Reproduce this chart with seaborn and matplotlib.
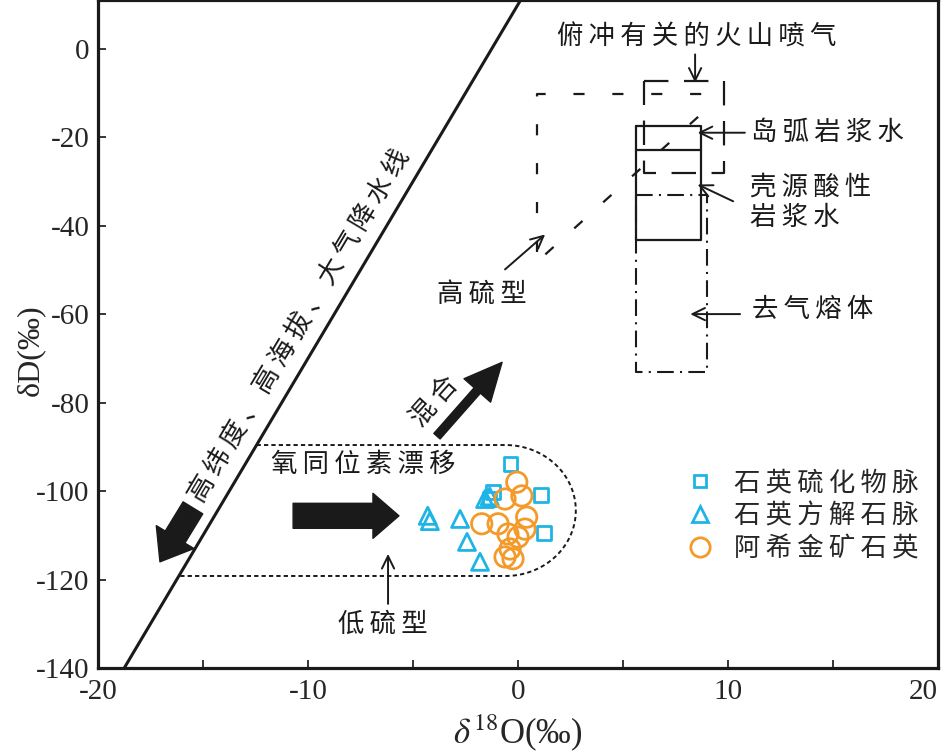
import numpy as np
import pandas as pd
import matplotlib
matplotlib.use('Agg')
import matplotlib.pyplot as plt
from matplotlib.lines import Line2D
import seaborn as sns

# sample data: delta18O (x) and deltaD (y), per mille
qtz_sulfide_o = [-0.35, -1.2, -1.35, 1.08, 1.24]
qtz_sulfide_d = [-93.9, -100.2, -101.8, -100.9, -109.5]
qtz_calcite_o = [-4.3, -4.2, -2.76, -2.43, -1.81, -1.57, -1.35]
qtz_calcite_d = [-105.6, -106.8, -106.3, -111.5, -116.0, -101.8, -101.2]
axi_qtz_o = [-0.06, 0.18, -0.62, -1.73, -0.95, 0.41, 0.33, -0.48, 0.0, -0.38, -0.62, -0.24]
axi_qtz_d = [-98.0, -101.1, -101.8, -107.4, -107.4, -105.9, -108.6, -109.7, -110.4, -113.1, -114.9, -115.3]

group_names = ['石英硫化物脉', '石英方解石脉', '阿希金矿石英']
group_colors = ['#1fb4e6', '#1fb4e6', '#f39a2b']
group_markers = ['s', '^', 'o']
group_sizes = [95, 150, 215]

# reference fields (x0, x1, y0, y1)
island_arc_box = [5.6, 8.7, -43.3, -17.4]
island_arc_split = -23.0
degassed_box = [5.6, 9.0, -73.1, -33.0]
vapor_box = [6.0, 9.8, -28.0, -7.2]
high_s_x = [0.9, 0.9, 9.8]
high_s_y = [-46.0, -10.2, -10.2]
high_s_diag_x = [1.3, 8.6]
high_s_diag_y = [-46.5, -15.3]
low_s_top, low_s_bottom = -89.6, -119.2
low_s_cx, low_s_rx = -0.6, 3.35

# global meteoric water line dD = 8 d18O + 10
gmwl_x = np.array([-21.0, 1.0])
gmwl_y = 8 * gmwl_x + 10

sns.set_theme(style='ticks')
plt.rcParams['font.family'] = ['Liberation Serif', 'DejaVu Sans']
plt.rcParams['axes.unicode_minus'] = False
plt.rcParams['mathtext.fontset'] = 'stix'
CJK = ['Noto Sans CJK SC', 'DejaVu Sans']


def sp(s):
    # spread characters a little, like the original typesetting
    return '\u2009'.join(s)


fig = plt.figure(figsize=(9.45, 7.56), dpi=100)
ax = fig.add_axes([0.1037, 0.1164, 0.889, 0.8836])

# meteoric water line
ax.plot(gmwl_x, gmwl_y, color='k', lw=2.2)

# low sulfidation field bounded by the GMWL
cy = (low_s_top + low_s_bottom) / 2
ry = (low_s_top - low_s_bottom) / 2
theta = np.linspace(np.pi / 2, -np.pi / 2, 80)
fx = np.concatenate([[(low_s_top - 10) / 8], low_s_cx + low_s_rx * np.cos(theta), [(low_s_bottom - 10) / 8]])
fy = np.concatenate([[low_s_top], cy + ry * np.sin(theta), [low_s_bottom]])
ax.plot(fx, fy, color='k', lw=1.4, ls=(0, (2.2, 1.6)))

# high sulfidation field
ax.plot(high_s_x, high_s_y, color='k', lw=1.6, ls=(0, (5, 12.5)))
ax.plot(high_s_diag_x, high_s_diag_y, color='k', lw=1.6, ls=(0, (5, 12.5)))

# volcanic vapor box
vx0, vx1, vy0, vy1 = vapor_box
ax.plot([vx0, vx1, vx1, vx0, vx0], [vy1, vy1, vy0, vy0, vy1], color='k', lw=1.6, ls=(0, (11, 7)))

# island arc / felsic magmatic water
bx0, bx1, by0, by1 = island_arc_box
ax.plot([bx0, bx1, bx1, bx0, bx0], [by1, by1, by0, by0, by1], color='k', lw=1.6)
ax.plot([bx0, bx1], [island_arc_split, island_arc_split], color='k', lw=1.6)

# degassed melt
dx0, dx1, dy0, dy1 = degassed_box
ax.plot([dx0, dx1, dx1, dx0, dx0], [dy1, dy1, dy0, dy0, dy1], color='k', lw=1.5,
        ls=(0, (8, 3, 1, 3)))

# samples
samples = [(qtz_sulfide_o, qtz_sulfide_d), (qtz_calcite_o, qtz_calcite_d), (axi_qtz_o, axi_qtz_d)]
handles = []
for (xs, ys), name, c, m, s in zip(samples, group_names, group_colors, group_markers, group_sizes):
    df = pd.DataFrame({'o18': xs, 'dD': ys})
    sns.scatterplot(data=df, x='o18', y='dD', ax=ax, marker=m, s=s, facecolor='none',
                    edgecolor=c, linewidth=2.0, zorder=4)
    handles.append(Line2D([], [], ls='none', marker=m, markersize=np.sqrt(s) * 0.95,
                          markerfacecolor='none', markeredgecolor=c, markeredgewidth=2.0))

ax.legend(handles, [sp(n) for n in group_names], loc='center left', bbox_to_anchor=(0.701, 0.228),
          frameon=False, prop={'family': CJK, 'size': 19}, handlelength=1.0, handletextpad=0.8,
          labelspacing=0.22, borderpad=0, borderaxespad=0)

# big arrows
def big_arrow(tail, tip, tw, hw, hl, ms):
    ax.annotate('', xy=tip, xytext=tail,
                arrowprops=dict(arrowstyle=f'simple,head_length={hl},head_width={hw},tail_width={tw}',
                                mutation_scale=ms, fc='k', ec='k', shrinkA=0, shrinkB=0))

big_arrow((-15.48, -103.8), (-17.05, -116.0), 0.46, 0.88, 0.58, 36)
big_arrow((-10.71, -105.6), (-5.67, -105.6), 0.5, 0.9, 0.52, 36)
big_arrow((-3.86, -87.6), (-0.76, -70.9), 0.2, 0.85, 0.9, 30)

# thin arrows
def thin_arrow(tail, tip):
    ax.annotate('', xy=tip, xytext=tail,
                arrowprops=dict(arrowstyle='->,head_length=0.45,head_width=0.22', mutation_scale=20,
                                color='k', lw=1.4, shrinkA=0, shrinkB=0))

thin_arrow((8.43, -1.3), (8.43, -7.7))
thin_arrow((10.8, -19.0), (8.55, -19.0))
thin_arrow((10.24, -34.5), (8.55, -30.7))
thin_arrow((10.57, -60.0), (8.2, -60.0))
thin_arrow((-0.62, -49.9), (1.29, -42.0))
thin_arrow((-6.19, -125.5), (-6.19, -114.2))

# labels
tkw = dict(family=CJK, fontsize=19, color='k')
ax.text(8.52, 2.6, sp('俯冲有关的火山喷气'), ha='center', va='center', **tkw)
ax.text(11.1, -19.0, sp('岛弧岩浆水'), ha='left', va='center', **tkw)
ax.text(11.05, -31.2, sp('壳源酸性'), ha='left', va='center', **tkw)
ax.text(11.05, -38.1, sp('岩浆水'), ha='left', va='center', **tkw)
ax.text(11.14, -59.0, sp('去气熔体'), ha='left', va='center', **tkw)
ax.text(-1.71, -55.5, sp('高硫型'), ha='center', va='center', **tkw)
ax.text(-6.43, -130.0, sp('低硫型'), ha='center', va='center', **tkw)
ax.text(-7.38, -93.9, sp('氧同位素漂移'), ha='center', va='center', **tkw)
ax.text(-3.95, -79.9, sp('混合'), ha='center', va='center', rotation=48, rotation_mode='anchor', **tkw)
ax.text(-10.38, -62.75, sp('高纬度、高海拔、大气降水线'), ha='center', va='center', rotation=59.2,
        rotation_mode='anchor', **tkw)

# axes
ax.set_xlim(-20, 20)
ax.set_ylim(-140, 11)
ax.set_xticks([-20, -10, 0, 10, 20])
ax.set_xticks([-15, -5, 5, 15], minor=True)
ax.set_yticks(np.arange(-140, 1, 20))
ax.tick_params(axis='both', which='both', direction='in', length=6, width=1.3, labelsize=21)
ax.tick_params(axis='x', which='both', pad=8)
ax.tick_params(axis='y', which='both', pad=6)
ax.tick_params(which='both', top=False, right=False)
for sp_ in ax.spines.values():
    sp_.set_linewidth(2.3)
    sp_.set_color('k')
# keep the last x label inside the picture
last = ax.get_xticklabels()[-1]
last.set_horizontalalignment('right')

ax.set_xlabel(r'$\delta^{18}$O(‰)', fontsize=25)
ax.set_ylabel('δD(‰)', fontsize=23)
ax.xaxis.set_label_coords(0.5, -0.066)
ax.yaxis.set_label_coords(-0.063, 0.476)

fig.savefig('out.png', dpi=100)
